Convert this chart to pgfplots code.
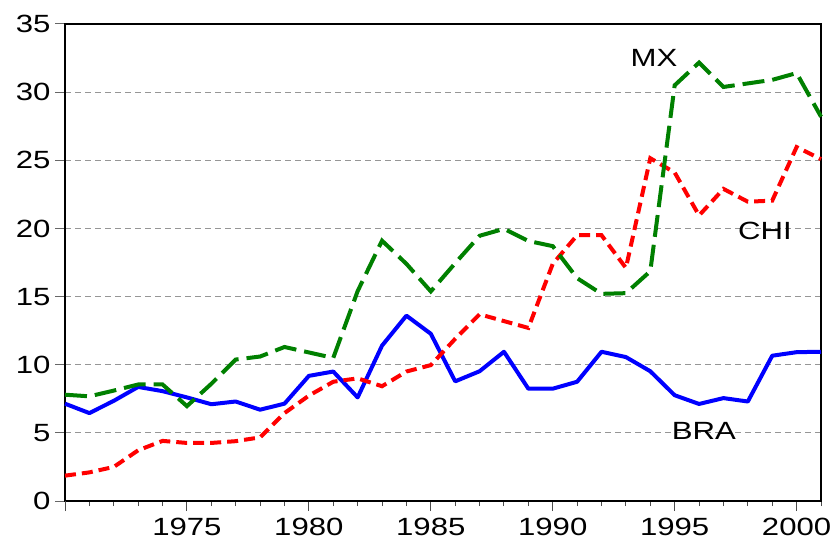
\documentclass[border=0pt]{standalone}
\usepackage{pgfplots}
\pgfplotsset{compat=1.18}
\usepackage{fontspec}
\setmainfont{Liberation Sans}[FakeStretch=1.25]
\definecolor{bra}{RGB}{0,0,255}
\definecolor{chi}{RGB}{255,0,0}
\definecolor{mx}{RGB}{0,128,0}
\definecolor{gridc}{RGB}{150,150,150}
\pgfplotstableread{
year BRA CHI MX
1970 7.14 1.86 7.80
1971 6.45 2.10 7.68
1972 7.35 2.50 8.10
1973 8.37 3.72 8.55
1974 8.06 4.41 8.55
1975 7.60 4.26 6.96
1976 7.10 4.26 8.60
1977 7.30 4.39 10.38
1978 6.70 4.67 10.60
1979 7.14 6.45 11.30
1980 9.18 7.73 10.90
1981 9.50 8.75 10.50
1982 7.60 9.00 15.40
1983 11.40 8.42 19.10
1984 13.60 9.50 17.40
1985 12.27 9.97 15.38
1986 8.78 11.90 17.45
1987 9.52 13.70 19.46
1988 10.95 13.20 19.97
1989 8.24 12.70 19.08
1990 8.24 17.40 18.70
1991 8.75 19.50 16.35
1992 10.95 19.50 15.20
1993 10.56 17.10 15.25
1994 9.52 25.15 16.86
1995 7.76 24.10 30.50
1996 7.12 20.95 32.17
1997 7.55 22.90 30.38
1998 7.30 21.96 30.64
1999 10.66 22.04 30.90
2000 10.92 25.97 31.40
2001 10.95 25.08 28.20
}\datatable
\begin{document}
\begin{tikzpicture}
\begin{axis}[
  scale only axis,
  width=756bp, height=477bp,
  xmin=1970, xmax=2001, ymin=0, ymax=35,
  axis line style={line width=1.6bp, black},
  xtick={1975,1980,1985,1990,1995,2000},
  minor xtick={1970,1971,...,2001},
  extra x ticks={1970},
  extra x tick labels={},
  ytick={0,5,...,35},
  tick align=outside,
  xtick pos=bottom, ytick pos=left,
  major tick length=10bp, minor tick length=5bp,
  y tick style={line width=1bp, gray!80!black},
  x tick style={line width=1bp, gray!60!black},
  minor x tick style={line width=1bp, gray!60!black},
  ymajorgrids,
  major grid style={gridc, line width=0.9bp, dash pattern=on 6bp off 4bp},
  extra x tick style={grid=none},
  /pgf/number format/assume math mode=true,
  /pgf/number format/1000 sep={},
  tick label style={font=\fontsize{25}{28}\selectfont, black},
  xticklabel style={yshift=-4bp},
  yticklabel style={xshift=-1bp},
  clip=false,
]
\addplot[bra, line width=4bp, line join=round] table[x=year,y=BRA] {\datatable};
\addplot[chi, line width=4bp, dash pattern=on 11bp off 6bp] table[x=year,y=CHI] {\datatable};
\addplot[mx, line width=4bp, dash pattern=on 22bp off 8bp] table[x=year,y=MX] {\datatable};
\node[font=\fontsize{25}{28}\selectfont] at (axis cs:1994.15,32.5) {MX};
\node[font=\fontsize{25}{28}\selectfont] at (axis cs:1998.7,19.8) {CHI};
\node[font=\fontsize{25}{28}\selectfont] at (axis cs:1996.2,5.13) {BRA};
\end{axis}
\pgfresetboundingbox
\path ([xshift=-65bp,yshift=-44bp]current axis.south west) rectangle ([xshift=11bp,yshift=24bp]current axis.north east);
\end{tikzpicture}
\end{document}
